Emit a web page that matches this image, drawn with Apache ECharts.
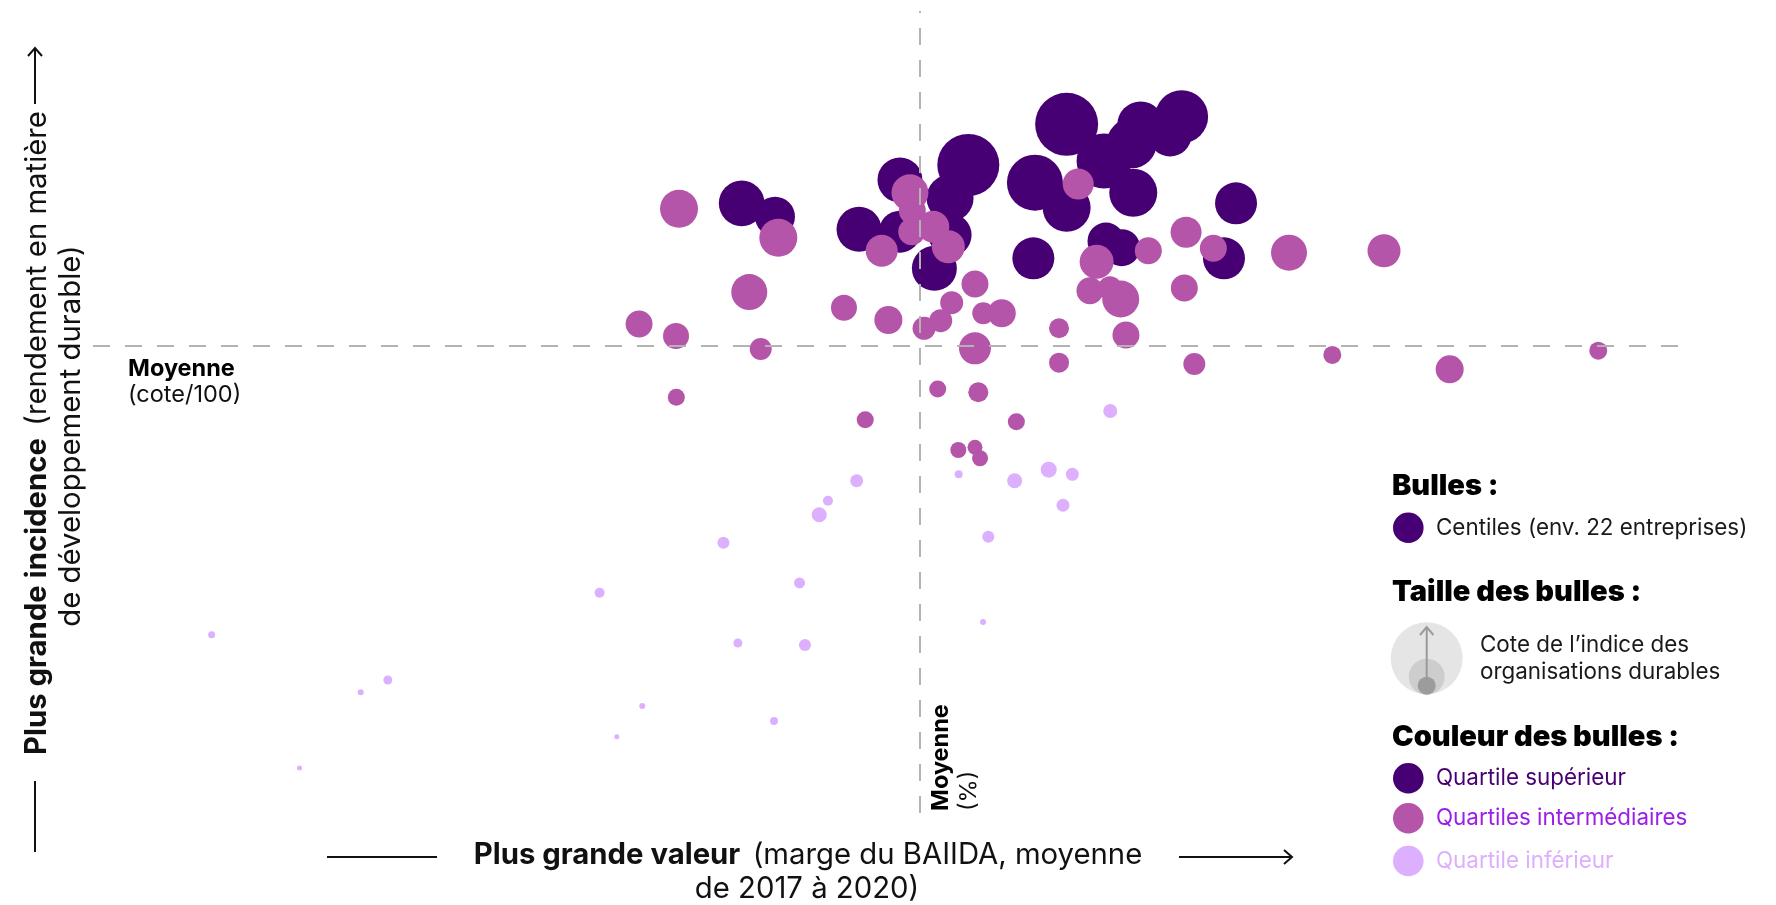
<!DOCTYPE html>
<html>
<head>
<meta charset="utf-8">
<script src="https://cdn.jsdelivr.net/npm/echarts@6/dist/echarts.min.js"></script>
<style>
html,body{margin:0;padding:0;background:#fff;}
#chart{width:1776px;height:905px;}
</style>
</head>
<body>
<div id="chart"></div>
<script>
// ---- Data (x: marge du BAIIDA, y: cote de rendement durable, score: cote de l'indice) ----
const xMin = 0, xMax = 100, yMin = 0, yMax = 100;
const xMean = 52.14;
const yMean = 58.27;

// Quartile supérieur
const topX = [40.90,43.00,48.30,50.88,50.88,53.05,55.19,54.04,54.04,61.39,63.75,66.06,68.64,67.91,65.49,65.59,59.39,61.39,72.07,59.29,63.87,64.86,71.31];
const topY = [76.02,74.35,72.78,72.48,78.93,67.92,80.80,76.68,72.07,85.87,81.30,85.79,86.82,84.54,83.50,77.34,78.59,75.47,76.02,69.16,71.32,70.49,69.16];
const topScore = [70.3,61.5,69.2,64.6,69.2,69.2,95.4,72.3,66.2,96.9,84.6,72.3,81.5,66.2,76.9,73.8,86.2,73.8,64.6,64.6,56.9,56.9,64.6];

// Quartiles intermédiaires
const midX = [36.95,43.21,41.38,34.43,36.76,42.10,51.51,51.66,51.62,52.98,53.93,49.73,62.12,63.28,66.54,68.92,70.64,75.41,81.40,68.81,62.86,64.12,64.80,65.13,60.91,60.91,69.44,78.14,55.61,54.14,53.45,52.40,56.13,57.30,50.15,47.35,55.61,36.78,48.69,53.26,55.82,58.22,54.56,55.61,55.93,85.54,94.91];
const midY = [75.35,71.73,64.96,60.97,59.48,57.86,77.34,75.10,72.48,73.10,70.61,70.11,78.43,68.74,70.11,72.41,70.41,69.86,70.11,65.46,65.12,65.42,64.09,59.60,60.44,56.15,55.99,57.11,65.96,63.63,61.38,60.44,62.31,62.31,61.47,63.00,57.94,51.83,49.04,52.87,52.46,48.79,45.26,45.60,44.23,55.32,57.64];
const midScore = [58.5,58.5,55.4,41.5,40.0,33.8,56.9,41.5,41.5,49.2,50.8,49.2,47.7,52.3,41.5,47.7,41.5,55.4,50.8,41.5,41.5,36.9,56.9,41.5,30.8,30.8,33.8,27.7,41.5,35.4,35.4,35.4,33.8,43.1,43.1,40.0,49.2,26.2,26.2,26.2,30.8,26.2,24.6,23.1,24.6,43.1,27.7];

// Quartile inférieur
const lowX = [64.14,54.58,58.11,60.26,61.75,61.16,56.45,56.12,48.15,46.34,45.79,39.75,44.55,31.94,7.48,40.66,44.89,18.59,16.88,34.63,42.94,33.03,13.02];
const lowY = [50.12,42.23,41.43,42.81,42.23,38.37,34.45,23.82,41.43,38.94,37.19,33.70,28.68,27.47,22.23,21.20,20.95,16.58,15.05,13.34,11.47,9.51,5.61];
const lowScore = [21.5,12.3,23.1,24.6,20.0,20.0,18.5,9.2,20.0,15.4,23.1,18.5,16.9,15.4,10.8,13.8,18.5,13.8,9.2,9.2,12.3,7.7,7.7];

// ---- Styles ----
const C_TOP = '#460073', C_MID = '#b455aa', C_LOW = '#dcafff';
const C_MID_TXT = '#9b1de8';
const FONT = 'Inter, Roboto, "Noto Sans", sans-serif';
const sizeScale = 0.65;

function zip(xs, ys, ss){ return xs.map((x,i)=>[x, ys[i], ss[i]]); }

function bubbleSeries(name, data, color){
  return {
    name, type:'scatter', data,
    symbolSize: v => v[2]*sizeScale,
    itemStyle:{color, opacity:1},
    emphasis:{disabled:true},
    silent:true
  };
}

const chart = echarts.init(document.getElementById('chart'), null, {renderer:'canvas'});

const txt = (x,y,text,o={}) => ({
  type:'text', x, y, rotation:o.rotation||0, z:10,
  style:Object.assign({text, fontFamily:FONT, fontSize:22, fontWeight:400, fill:'#1a1a1a', align:'left', verticalAlign:'middle'}, o.style||{})
});
const line = (x1,y1,x2,y2,color,w) => ({type:'line', z:10, shape:{x1,y1,x2,y2}, style:{stroke:color, lineWidth:w}});
const poly = (pts,color,w) => ({type:'polyline', z:10, shape:{points:pts}, style:{stroke:color, lineWidth:w, fill:null}});
const circ = (cx,cy,r,color) => ({type:'circle', z:10, shape:{cx,cy,r}, style:{fill:color}});

const TS = 29.3;
const richTitle = {
  b:{fontFamily:FONT, fontSize:TS, fontWeight:700, fill:'#111', color:'#111'},
  r:{fontFamily:FONT, fontSize:TS, fontWeight:400, fill:'#111', color:'#111'}
};
const HS = 29, LS = 22.4, MS = 23.5;

const graphics = [
  // Y axis title
  txt(37, 433, '{b|Plus grande incidence}  {r|(rendement en matière}', {rotation:Math.PI/2, style:{align:'center', rich:richTitle}}),
  txt(71, 436, 'de développement durable)', {rotation:Math.PI/2, style:{align:'center', fontSize:TS, fill:'#111'}}),
  line(35,781,35,852,'#111',2),
  line(35,104,35,48,'#111',2),
  poly([[28,56],[35,48],[42,56]],'#111',2),
  // X axis title
  txt(808, 855, '{b|Plus grande valeur}  {r|(marge du BAIIDA, moyenne}', {style:{align:'center', rich:richTitle}}),
  txt(807, 889, 'de 2017 à 2020)', {style:{align:'center', fontSize:TS, fill:'#111'}}),
  line(327,857,437,857,'#111',2),
  line(1179,857,1292,857,'#111',2),
  poly([[1284,850],[1292,857],[1284,864]],'#111',2),
  // Mean labels
  txt(128, 369, 'Moyenne', {style:{fontWeight:700, fontSize:MS, fill:'#000'}}),
  txt(128, 395, '(cote/100)', {style:{fontSize:MS, fill:'#111'}}),
  txt(941, 811, 'Moyenne', {rotation:Math.PI/2, style:{fontWeight:700, fontSize:MS, fill:'#000'}}),
  txt(969, 811, '(%)', {rotation:Math.PI/2, style:{fontSize:MS, fill:'#111'}}),
  // Legend
  txt(1392, 486, 'Bulles :', {style:{fontWeight:900, fontSize:HS, fill:'#000'}}),
  circ(1408.3, 527.7, 15.3, C_TOP),
  txt(1436, 528, 'Centiles (env. 22 entreprises)', {style:{fontSize:LS}}),
  txt(1392, 592, 'Taille des bulles :', {style:{fontWeight:900, fontSize:HS, fill:'#000'}}),
  circ(1426.7, 658.3, 36, '#e5e5e5'),
  circ(1426.7, 676.7, 18, '#cdcdcd'),
  circ(1426.7, 685.7, 9, '#9c9c9c'),
  line(1426.7, 684, 1426.7, 627, '#9a9a9a', 2),
  poly([[1420,635],[1426.7,627],[1433.4,635]], '#9a9a9a', 2),
  txt(1480, 645, 'Cote de l’indice des', {style:{fontSize:LS}}),
  txt(1480, 672, 'organisations durables', {style:{fontSize:LS}}),
  txt(1392, 737, 'Couleur des bulles :', {style:{fontWeight:900, fontSize:HS, fill:'#000'}}),
  circ(1408.3, 778.3, 15.3, C_TOP),
  txt(1436, 778, 'Quartile supérieur', {style:{fontSize:LS, fill:C_TOP}}),
  circ(1408.3, 818.3, 15.3, C_MID),
  txt(1436, 818, 'Quartiles intermédiaires', {style:{fontSize:LS, fill:C_MID_TXT}}),
  circ(1408.3, 861, 15.3, C_LOW),
  txt(1436, 861, 'Quartile inférieur', {style:{fontSize:LS, fill:C_LOW}})
];

chart.setOption({
  animation:false,
  backgroundColor:'#fff',
  grid:{left:93, right:97, top:11, bottom:92, containLabel:false},
  xAxis:{type:'value', min:xMin, max:xMax, show:false, splitLine:{show:false}},
  yAxis:{type:'value', min:yMin, max:yMax, show:false, splitLine:{show:false}},
  series:[
    bubbleSeries('Quartile supérieur', zip(topX, topY, topScore), C_TOP),
    bubbleSeries('Quartiles intermédiaires', zip(midX, midY, midScore), C_MID),
    bubbleSeries('Quartile inférieur', zip(lowX, lowY, lowScore), C_LOW),
    {
      type:'scatter', data:[], z:5, silent:true,
      markLine:{
        silent:true, symbol:'none', label:{show:false},
        lineStyle:{type:[17,15], color:'#b3b3b3', width:2},
        emphasis:{disabled:true},
        data:[{xAxis:xMean},{yAxis:yMean}]
      }
    }
  ],
  graphic:graphics
});
</script>
</body>
</html>
